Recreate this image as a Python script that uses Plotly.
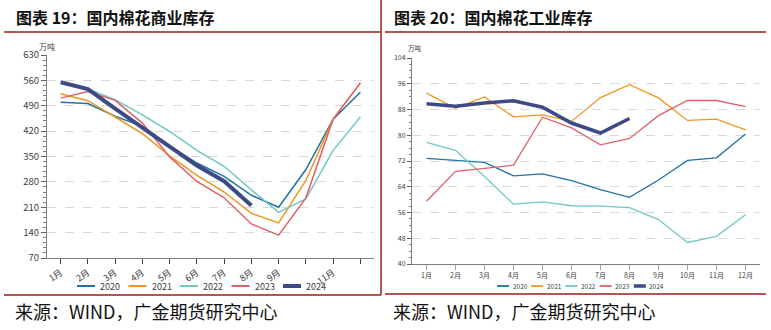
import plotly.graph_objects as go

months = ["1月", "2月", "3月", "4月", "5月", "6月", "7月", "8月", "9月", "10月", "11月", "12月"]
left_ticktext = ["1月", "2月", "3月", "4月", "5月", "6月", "7月", "8月", "9月", "", "11月", ""]

# 商业库存 (万吨)
com_2020 = [500, 496, 461, 433, 380, 332, 295, 243, 210, 314, 453, 527]
com_2021 = [523, 504, 459, 413, 352, 298, 252, 193, 167, 284, 453, 553]
com_2022 = [552, 536, 507, 465, 419, 367, 323, 258, 196, 233, 367, 459]
com_2023 = [511, 529, 505, 442, 349, 281, 236, 164, 133, 236, 453, 553]
com_2024 = [555, 536, 482, 429, 378, 325, 282, 215]

# 工业库存 (万吨)
ind_2020 = [72.8, 72.3, 71.6, 67.4, 68.0, 65.9, 63.1, 60.7, 66.1, 72.2, 73.0, 80.4]
ind_2021 = [93.1, 88.4, 91.9, 85.7, 86.3, 84.3, 91.7, 95.7, 91.6, 84.6, 85.0, 81.7]
ind_2022 = [77.8, 75.3, 67.2, 58.6, 59.3, 58.1, 58.0, 57.5, 53.8, 46.7, 48.6, 55.3]
ind_2023 = [59.5, 68.8, 69.7, 70.7, 85.6, 82.3, 77.0, 79.0, 86.1, 90.8, 90.8, 88.9]
ind_2024 = [89.8, 89.0, 90.0, 90.7, 88.7, 83.8, 80.7, 85.2]

years = ["2020", "2021", "2022", "2023", "2024"]
colors = ["#2372a3", "#f0961f", "#71c9c5", "#e06068", "#3e4a86"]

W, H = 771, 330
def px(x): return x / W
def py(y): return 1 - y / H

fig = go.Figure()
left = [com_2020, com_2021, com_2022, com_2023, com_2024]
right = [ind_2020, ind_2021, ind_2022, ind_2023, ind_2024]
for yr, c, vals in zip(years, colors, left):
    fig.add_trace(go.Scatter(x=months[:len(vals)], y=vals, name=yr, mode="lines",
                             line=dict(color=c, width=4 if yr == "2024" else 1.5),
                             xaxis="x", yaxis="y"))
for yr, c, vals in zip(years, colors, right):
    fig.add_trace(go.Scatter(x=months[:len(vals)], y=vals, name=yr, mode="lines",
                             line=dict(color=c, width=3.5 if yr == "2024" else 1.3),
                             xaxis="x2", yaxis="y2"))

grid = dict(showgrid=True, gridcolor="#d9d9d9", griddash="dash", gridwidth=1)
fig.update_layout(
    width=W, height=H, margin=dict(l=0, r=0, t=0, b=0, autoexpand=False),
    paper_bgcolor="white", plot_bgcolor="white", showlegend=False,
    font=dict(family="Noto Sans CJK SC", color="#404040"),
    xaxis=dict(domain=[px(47), px(374)], anchor="y", type="category", automargin=False,
               categoryorder="array", categoryarray=months, range=[-0.5, 11.5],
               tickmode="array", tickvals=months, ticktext=left_ticktext,
               tickangle=-35, tickfont=dict(size=9, color="#404040"),
               ticks="outside", ticklen=5, tickcolor="#404040",
               showline=True, linecolor="#808080", showgrid=False),
    yaxis=dict(domain=[py(258), py(55)], anchor="x", range=[70, 630], automargin=False,
               tickvals=[70, 140, 210, 280, 350, 420, 490, 560, 630],
               tickfont=dict(size=9.5, color="#404040"),
               ticks="outside", ticklen=5, tickcolor="#606060",
               showline=True, linecolor="#808080", zeroline=False,
               minor=dict(dtick=14, ticks="outside", ticklen=3, tickcolor="#808080", showgrid=False),
               **grid),
    xaxis2=dict(domain=[px(412), px(760)], anchor="y2", type="category", automargin=False,
                categoryorder="array", categoryarray=months, range=[-0.5, 11.5],
                tickangle=0, tickfont=dict(size=7, color="#404040"),
                ticks="outside", ticklen=5, tickcolor="#a0a0a0",
                showline=True, linecolor="#808080", showgrid=False),
    yaxis2=dict(domain=[py(264), py(58)], anchor="x2", range=[40, 104], automargin=False,
                tickvals=[40, 48, 56, 64, 72, 80, 88, 96, 104],
                tickfont=dict(size=7, color="#404040"),
                ticks="outside", ticklen=4, tickcolor="#606060",
                showline=True, linecolor="#808080", zeroline=False,
                minor=dict(dtick=2, ticks="outside", ticklen=2.5, tickcolor="#808080", showgrid=False),
                **grid),
)

red = "#9e1b1b"
shapes = [
    dict(type="line", xref="paper", yref="paper", x0=px(4), x1=px(381), y0=py(32), y1=py(32), line=dict(color=red, width=1.5)),
    dict(type="line", xref="paper", yref="paper", x0=px(385), x1=px(766), y0=py(32), y1=py(32), line=dict(color=red, width=1.5)),
    dict(type="line", xref="paper", yref="paper", x0=px(381), x1=px(381), y0=py(0), y1=py(295), line=dict(color=red, width=1.5)),
    dict(type="line", xref="paper", yref="paper", x0=px(4), x1=px(381), y0=py(295), y1=py(295), line=dict(color=red, width=1.5)),
    dict(type="line", xref="paper", yref="paper", x0=px(385), x1=px(766), y0=py(294), y1=py(294), line=dict(color=red, width=1.5)),
]

title_font = dict(family="Noto Sans CJK SC", size=16, color="#111111")
src_font = dict(family="Noto Sans CJK SC", size=18, color="#111111")
ann = [
    dict(text="<b>图表 19：国内棉花商业库存</b>", x=px(14), y=py(17), xanchor="left", yanchor="middle", font=title_font),
    dict(text="<b>图表 20：国内棉花工业库存</b>", x=px(392), y=py(17), xanchor="left", yanchor="middle", font=title_font),
    dict(text="来源：WIND，广金期货研究中心", x=px(13), y=py(311), xanchor="left", yanchor="middle", font=src_font),
    dict(text="来源：WIND，广金期货研究中心", x=px(391), y=py(311), xanchor="left", yanchor="middle", font=src_font),
    dict(text="万吨", x=px(37), y=py(46), xanchor="left", yanchor="middle", font=dict(size=8, color="#404040")),
    dict(text="万吨", x=px(406), y=py(48), xanchor="left", yanchor="middle", font=dict(size=6.5, color="#404040")),
]

# legends (drawn as swatches + labels)
leg_y = py(286)
for i, (yr, c) in enumerate(zip(years, colors)):
    # left legend
    x0 = 77 + i * 51.5
    shapes.append(dict(type="line", xref="paper", yref="paper", x0=px(x0), x1=px(x0 + 18),
                       y0=leg_y, y1=leg_y, line=dict(color=c, width=4 if yr == "2024" else 2)))
    ann.append(dict(text=yr, x=px(x0 + 21), y=leg_y, xanchor="left", yanchor="middle",
                    font=dict(size=9, color="#404040")))
    # right legend
    x1 = 497 + i * 34.2
    shapes.append(dict(type="line", xref="paper", yref="paper", x0=px(x1), x1=px(x1 + 12),
                       y0=leg_y, y1=leg_y, line=dict(color=c, width=3.5 if yr == "2024" else 1.8)))
    ann.append(dict(text=yr, x=px(x1 + 13.5), y=leg_y, xanchor="left", yanchor="middle",
                    font=dict(size=6.5, color="#404040")))

for a in ann:
    a.update(xref="paper", yref="paper", showarrow=False)
fig.update_layout(shapes=shapes, annotations=ann)

fig.write_html("out.html")
